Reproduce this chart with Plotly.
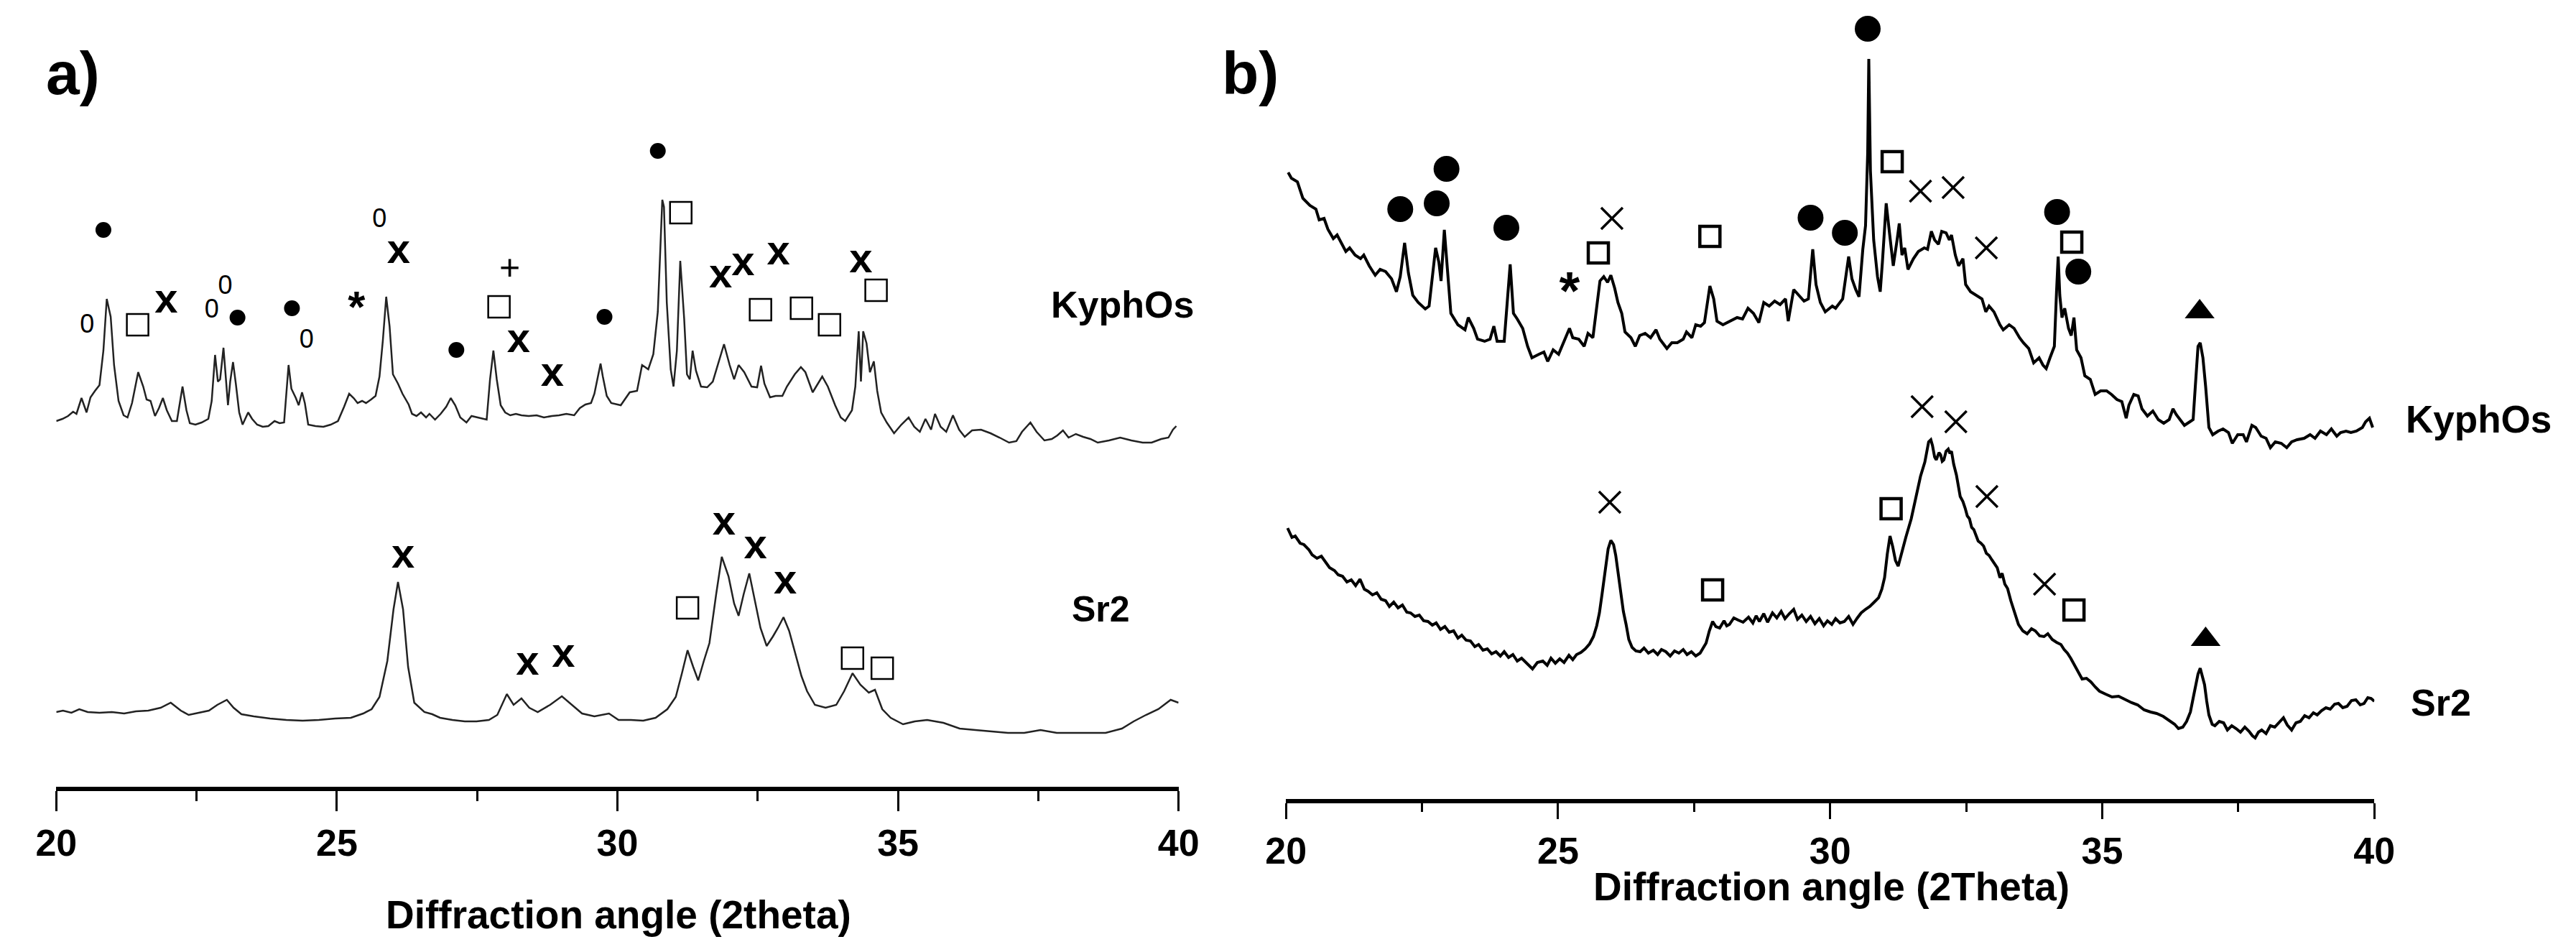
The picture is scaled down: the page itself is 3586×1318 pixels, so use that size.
import plotly.graph_objects as go

W, H = 3586, 1318
FONT = "Liberation Sans"

# ---- panel a) : 2theta and intensity (arbitrary units) ----
a_kyphos_2t = [20.00, 20.11, 20.21, 20.30, 20.36, 20.45, 20.54, 20.61, 20.69, 20.77, 20.84, 20.90, 20.97,
               21.03, 21.11, 21.20, 21.27, 21.35, 21.46, 21.55, 21.61, 21.68, 21.76, 21.83, 21.90, 21.97,
               22.06, 22.15, 22.25, 22.32, 22.38, 22.48, 22.59, 22.71, 22.77, 22.83, 22.88, 22.92, 22.98,
               23.02, 23.06, 23.10, 23.15, 23.20, 23.26, 23.32, 23.42, 23.49, 23.58, 23.68, 23.78, 23.89,
               23.98, 24.06, 24.14, 24.19, 24.27, 24.32, 24.38, 24.43, 24.49, 24.62, 24.76, 24.89, 25.02,
               25.13, 25.22, 25.30, 25.37, 25.45, 25.52, 25.61, 25.69, 25.76, 25.82, 25.88, 25.94, 26.00,
               26.09, 26.17, 26.28, 26.34, 26.42, 26.50, 26.59, 26.65, 26.75, 26.85, 26.95, 27.03, 27.11,
               27.20, 27.31, 27.40, 27.50, 27.60, 27.67, 27.73, 27.79, 27.85, 27.92, 28.00, 28.09, 28.19,
               28.29, 28.42, 28.56, 28.69, 28.83, 28.96, 29.09, 29.23, 29.33, 29.43, 29.53, 29.59, 29.66,
               29.70, 29.74, 29.81, 29.89, 30.06, 30.22, 30.35, 30.44, 30.55, 30.64, 30.72, 30.80, 30.83,
               30.88, 30.95, 31.00, 31.06, 31.12, 31.19, 31.24, 31.29, 31.34, 31.40, 31.49, 31.60, 31.70,
               31.80, 31.90, 32.00, 32.08, 32.16, 32.26, 32.39, 32.49, 32.56, 32.62, 32.72, 32.82, 32.94,
               33.02, 33.16, 33.27, 33.35, 33.48, 33.65, 33.75, 33.88, 33.98, 34.06, 34.18, 34.24, 34.30,
               34.34, 34.38, 34.44, 34.50, 34.57, 34.63, 34.70, 34.80, 34.93, 35.06, 35.19, 35.29, 35.39,
               35.49, 35.59, 35.66, 35.76, 35.86, 35.98, 36.09, 36.19, 36.32, 36.48, 36.65, 36.81, 36.98,
               37.11, 37.21, 37.36, 37.47, 37.61, 37.74, 37.84, 37.94, 38.04, 38.17, 38.30, 38.43, 38.56,
               38.76, 38.96, 39.16, 39.36, 39.52, 39.69, 39.82, 39.90, 39.96]
a_kyphos_i = [512, 515, 519, 525, 522, 544, 524, 545, 554, 562, 610, 682, 657,
              590, 540, 520, 517, 537, 580, 560, 542, 540, 519, 530, 544, 527,
              512, 512, 560, 527, 509, 507, 510, 515, 540, 604, 567, 570, 614,
              577, 534, 567, 594, 564, 524, 507, 524, 515, 507, 504, 505, 512,
              509, 510, 590, 557, 544, 534, 552, 537, 507, 505, 504, 507, 512,
              532, 550, 544, 537, 540, 537, 542, 547, 574, 624, 685, 644, 577,
              564, 550, 535, 522, 519, 524, 517, 522, 514, 522, 532, 544, 534,
              517, 510, 519, 517, 515, 514, 570, 610, 570, 534, 524, 520, 522,
              520, 519, 520, 517, 519, 520, 522, 520, 530, 535, 537, 550, 577,
              592, 574, 547, 537, 534, 552, 554, 590, 584, 605, 664, 820, 810,
              677, 584, 560, 610, 735, 654, 577, 570, 610, 582, 560, 559, 567,
              594, 619, 590, 570, 590, 580, 560, 559, 589, 564, 545, 547, 547,
              560, 577, 587, 580, 552, 574, 560, 534, 517, 512, 527, 560, 637,
              567, 637, 620, 580, 595, 554, 524, 510, 495, 507, 517, 504, 497,
              515, 500, 522, 504, 497, 520, 500, 490, 499, 500, 495, 489, 482,
              484, 497, 510, 497, 485, 487, 492, 499, 489, 494, 490, 487, 482,
              485, 489, 485, 482, 482, 487, 489, 500, 505]

a_sr2_2t = [20.00, 20.12, 20.27, 20.41, 20.56, 20.77, 20.99, 21.21, 21.42, 21.64, 21.86, 22.04, 22.22,
            22.36, 22.54, 22.72, 22.87, 23.04, 23.16, 23.30, 23.52, 23.81, 24.10, 24.39, 24.68, 24.97,
            25.25, 25.47, 25.62, 25.76, 25.90, 26.01, 26.09, 26.18, 26.27, 26.38, 26.56, 26.70, 26.84,
            27.06, 27.28, 27.49, 27.71, 27.86, 28.03, 28.15, 28.29, 28.43, 28.58, 28.80, 29.01, 29.19,
            29.37, 29.59, 29.85, 30.02, 30.24, 30.46, 30.68, 30.89, 31.04, 31.15, 31.25, 31.35, 31.44,
            31.54, 31.64, 31.76, 31.86, 31.98, 32.08, 32.16, 32.25, 32.35, 32.45, 32.55, 32.66, 32.77,
            32.86, 32.96, 33.06, 33.18, 33.28, 33.38, 33.52, 33.71, 33.90, 34.04, 34.19, 34.33, 34.48,
            34.59, 34.72, 34.87, 35.09, 35.30, 35.52, 35.81, 36.10, 36.38, 36.67, 36.96, 37.25, 37.54,
            37.83, 38.12, 38.41, 38.70, 38.99, 39.20, 39.42, 39.64, 39.86, 40.00]
a_sr2_i = [107, 109, 106, 111, 107, 106, 107, 105, 108, 109, 113, 120, 109,
           103, 106, 109, 117, 124, 113, 104, 101, 98, 96, 95, 96, 98,
           99, 105, 111, 128, 178, 250, 288, 250, 170, 120, 107, 104, 99,
           96, 94, 94, 96, 103, 132, 117, 126, 113, 107, 117, 129, 117,
           105, 101, 105, 96, 96, 95, 99, 111, 128, 161, 193, 170, 151,
           178, 203, 271, 323, 296, 258, 241, 271, 300, 262, 224, 199, 212,
           224, 239, 220, 187, 157, 136, 117, 113, 117, 136, 161, 145, 134,
           138, 111, 99, 90, 94, 96, 92, 84, 82, 80, 78, 78, 82,
           78, 78, 78, 78, 84, 94, 103, 111, 124, 120]

# phase labels in panel a (2theta, height)
a_dot_2t = [20.84, 23.23, 24.20, 27.13, 29.77, 30.72]
a_dot_i = [778, 656, 669, 611, 657, 888]
a_oval_2t = [20.55, 22.77, 23.01, 24.46, 25.76]
a_oval_i = [644, 665, 698, 623, 791]
a_box_2t = [21.45, 27.89, 31.13, 32.55, 33.28, 33.78, 34.61, 31.25, 34.19, 34.72]
a_box_i = [646, 671, 802, 667, 669, 646, 694, 252, 182, 168]
a_x_2t = [21.96, 26.10, 28.24, 28.84, 31.84, 32.24, 32.87, 34.34, 26.18, 28.40, 29.04, 31.90, 32.46, 32.99]
a_x_i = [678, 747, 623, 576, 713, 730, 745, 734, 323, 174, 185, 369, 336, 287]
a_star_2t, a_star_i = [25.35], [666]
a_plus_2t, a_plus_i = [28.08], [722]

# ---- panel b) ----
b_kyphos_2t = [20.04, 20.10, 20.21, 20.31, 20.44, 20.55, 20.61, 20.70, 20.77, 20.87, 20.94, 21.04, 21.10,
               21.17, 21.27, 21.37, 21.43, 21.53, 21.64, 21.73, 21.83, 21.94, 22.03, 22.10, 22.18, 22.25,
               22.33, 22.43, 22.56, 22.63, 22.69, 22.75, 22.81, 22.85, 22.91, 22.96, 23.03, 23.16, 23.29,
               23.35, 23.45, 23.52, 23.65, 23.75, 23.82, 23.88, 24.01, 24.12, 24.18, 24.25, 24.35, 24.44,
               24.52, 24.65, 24.74, 24.81, 24.91, 25.01, 25.10, 25.21, 25.27, 25.38, 25.48, 25.55, 25.64,
               25.70, 25.77, 25.84, 25.91, 25.97, 26.04, 26.10, 26.17, 26.23, 26.34, 26.42, 26.50, 26.60,
               26.70, 26.80, 26.87, 27.00, 27.09, 27.19, 27.30, 27.36, 27.46, 27.53, 27.62, 27.69, 27.79,
               27.86, 27.92, 28.03, 28.16, 28.29, 28.39, 28.49, 28.59, 28.69, 28.78, 28.88, 28.98, 29.08,
               29.18, 29.23, 29.33, 29.42, 29.52, 29.60, 29.68, 29.74, 29.82, 29.91, 30.04, 30.10, 30.23,
               30.34, 30.40, 30.47, 30.53, 30.60, 30.65, 30.69, 30.71, 30.74, 30.80, 30.87, 30.92, 30.96,
               31.03, 31.09, 31.16, 31.23, 31.27, 31.32, 31.37, 31.43, 31.53, 31.62, 31.73, 31.79, 31.86,
               31.92, 31.99, 32.05, 32.13, 32.19, 32.23, 32.30, 32.36, 32.44, 32.49, 32.58, 32.69, 32.79,
               32.86, 32.92, 33.01, 33.12, 33.18, 33.29, 33.38, 33.48, 33.55, 33.65, 33.74, 33.84, 33.91,
               33.97, 34.04, 34.12, 34.16, 34.19, 34.22, 34.26, 34.31, 34.38, 34.43, 34.48, 34.53, 34.61,
               34.68, 34.78, 34.87, 34.97, 35.08, 35.17, 35.27, 35.36, 35.44, 35.49, 35.58, 35.66, 35.73,
               35.83, 35.93, 36.03, 36.13, 36.23, 36.30, 36.36, 36.43, 36.51, 36.61, 36.67, 36.71, 36.76,
               36.80, 36.85, 36.90, 36.96, 37.03, 37.13, 37.22, 37.32, 37.39, 37.49, 37.59, 37.65, 37.75,
               37.82, 37.92, 38.01, 38.09, 38.18, 38.29, 38.39, 38.48, 38.58, 38.71, 38.82, 38.91, 39.01,
               39.12, 39.21, 39.31, 39.38, 39.48, 39.57, 39.67, 39.78, 39.84, 39.91, 39.97]
b_kyphos_i = [876, 868, 863, 840, 830, 825, 810, 812, 797, 784, 789, 774, 766,
              771, 761, 756, 761, 746, 733, 741, 738, 728, 710, 731, 778, 736,
              705, 695, 686, 690, 731, 771, 751, 725, 796, 751, 680, 664, 657,
              674, 659, 644, 641, 644, 662, 641, 641, 748, 680, 672, 659, 634,
              618, 623, 626, 613, 629, 623, 639, 659, 646, 644, 634, 652, 646,
              680, 725, 731, 723, 733, 715, 695, 680, 654, 646, 634, 649, 652,
              646, 657, 644, 631, 639, 639, 644, 654, 646, 664, 662, 667, 718,
              700, 669, 664, 669, 674, 672, 687, 680, 667, 695, 690, 697, 692,
              700, 669, 713, 705, 697, 700, 769, 720, 695, 682, 690, 687, 700,
              759, 728, 713, 703, 769, 802, 904, 1034, 878, 782, 731, 710, 751,
              833, 792, 746, 782, 805, 761, 771, 741, 756, 766, 771, 769, 794,
              782, 776, 794, 792, 782, 789, 761, 746, 756, 720, 710, 705, 700,
              682, 690, 682, 664, 657, 664, 659, 646, 639, 631, 611, 618, 608,
              603, 618, 634, 710, 759, 705, 674, 687, 659, 649, 674, 629, 618,
              593, 588, 567, 572, 572, 567, 560, 557, 534, 552, 567, 565, 547,
              537, 544, 532, 527, 532, 547, 539, 532, 524, 529, 532, 578, 634,
              639, 618, 578, 521, 511, 516, 519, 514, 499, 511, 511, 501, 524,
              521, 509, 506, 493, 501, 499, 493, 501, 504, 506, 511, 506, 516,
              511, 519, 509, 514, 516, 514, 516, 521, 529, 534, 521]

b_sr2_2t = [20.03, 20.08, 20.11, 20.17, 20.26, 20.33, 20.42, 20.48, 20.57, 20.65, 20.73, 20.80, 20.89,
            20.96, 21.04, 21.12, 21.20, 21.28, 21.36, 21.44, 21.51, 21.59, 21.67, 21.75, 21.83, 21.90,
            21.98, 22.06, 22.14, 22.22, 22.29, 22.37, 22.45, 22.53, 22.61, 22.69, 22.76, 22.84, 22.92,
            23.00, 23.08, 23.16, 23.23, 23.31, 23.39, 23.47, 23.54, 23.62, 23.70, 23.78, 23.86, 23.94,
            24.01, 24.09, 24.17, 24.25, 24.33, 24.43, 24.53, 24.62, 24.72, 24.80, 24.87, 24.95, 25.03,
            25.11, 25.20, 25.27, 25.34, 25.42, 25.50, 25.58, 25.65, 25.71, 25.76, 25.81, 25.86, 25.92,
            25.97, 26.02, 26.06, 26.11, 26.15, 26.20, 26.25, 26.30, 26.36, 26.43, 26.51, 26.58, 26.66,
            26.75, 26.83, 26.90, 26.98, 27.06, 27.14, 27.22, 27.30, 27.37, 27.45, 27.53, 27.61, 27.67,
            27.72, 27.78, 27.84, 27.90, 27.97, 28.05, 28.10, 28.15, 28.23, 28.31, 28.40, 28.50, 28.58,
            28.64, 28.70, 28.78, 28.85, 28.94, 29.02, 29.10, 29.17, 29.25, 29.33, 29.40, 29.48, 29.56,
            29.64, 29.72, 29.80, 29.88, 29.95, 30.03, 30.10, 30.18, 30.26, 30.34, 30.42, 30.50, 30.57,
            30.65, 30.73, 30.81, 30.89, 30.95, 31.00, 31.05, 31.10, 31.15, 31.20, 31.25, 31.30, 31.39,
            31.49, 31.56, 31.66, 31.74, 31.81, 31.85, 31.88, 31.92, 31.95, 32.00, 32.03, 32.06, 32.09,
            32.13, 32.17, 32.20, 32.23, 32.27, 32.32, 32.39, 32.44, 32.48, 32.52, 32.56, 32.60, 32.64,
            32.68, 32.72, 32.77, 32.82, 32.87, 32.92, 32.97, 33.01, 33.07, 33.12, 33.16, 33.21, 33.26,
            33.32, 33.37, 33.42, 33.46, 33.54, 33.62, 33.70, 33.77, 33.85, 33.93, 34.00, 34.08, 34.16,
            34.24, 34.30, 34.36, 34.42, 34.48, 34.55, 34.63, 34.71, 34.79, 34.87, 34.95, 35.06, 35.18,
            35.30, 35.42, 35.54, 35.65, 35.77, 35.89, 36.00, 36.12, 36.22, 36.33, 36.40, 36.48, 36.55,
            36.62, 36.68, 36.72, 36.76, 36.80, 36.84, 36.88, 36.92, 36.96, 37.02, 37.07, 37.15, 37.23,
            37.30, 37.38, 37.46, 37.54, 37.62, 37.70, 37.76, 37.81, 37.87, 37.93, 38.01, 38.09, 38.17,
            38.25, 38.33, 38.40, 38.48, 38.56, 38.64, 38.72, 38.80, 38.88, 38.95, 39.03, 39.11, 39.19,
            39.27, 39.34, 39.42, 39.50, 39.58, 39.66, 39.74, 39.81, 39.88, 39.94, 40.00]
b_sr2_i = [381, 372, 368, 370, 360, 358, 351, 344, 339, 342, 333, 326, 322,
           316, 314, 306, 309, 301, 310, 296, 293, 288, 291, 282, 280, 272,
           278, 270, 274, 264, 263, 258, 260, 252, 251, 246, 249, 240, 244,
           236, 238, 228, 232, 225, 224, 216, 219, 211, 213, 206, 209, 203,
           209, 201, 205, 196, 200, 192, 185, 194, 196, 190, 200, 193, 199,
           194, 204, 198, 205, 208, 213, 220, 230, 245, 263, 290, 322, 352,
           364, 358, 343, 315, 289, 265, 247, 226, 215, 210, 209, 214, 207,
           211, 205, 212, 209, 203, 210, 207, 212, 205, 209, 203, 207, 214,
           221, 238, 251, 244, 242, 252, 245, 247, 256, 253, 250, 257, 249,
           259, 251, 262, 250, 263, 256, 265, 255, 262, 268, 254, 260, 251,
           258, 248, 255, 245, 252, 247, 255, 249, 251, 258, 247, 256, 263,
           268, 272, 278, 284, 296, 312, 345, 370, 355, 336, 328, 343, 368,
           394, 419, 453, 473, 501, 504, 496, 480, 476, 486, 483, 474, 476,
           488, 491, 485, 488, 470, 455, 425, 418, 409, 398, 394, 382, 379,
           370, 363, 360, 356, 346, 343, 337, 333, 326, 312, 318, 303, 297,
           280, 268, 258, 247, 238, 234, 241, 238, 231, 230, 234, 226, 222,
           219, 212, 207, 200, 192, 182, 171, 172, 167, 160, 154, 150, 146,
           147, 142, 138, 135, 128, 125, 123, 119, 114, 108, 102, 104, 112,
           125, 148, 163, 178, 186, 176, 163, 140, 121, 108, 106, 112, 110,
           100, 106, 102, 97, 104, 98, 92, 89, 97, 100, 95, 106, 104,
           110, 117, 107, 100, 110, 112, 120, 117, 124, 121, 127, 131, 129,
           136, 137, 131, 133, 141, 142, 135, 137, 145, 144, 140]

# phase labels in panel b
b_dot_2t = [22.10, 22.77, 22.95, 24.05, 29.64, 30.27, 30.69, 34.17, 34.56]
b_dot_i = [825, 833, 881, 799, 813, 792, 1076, 821, 738]
b_box_2t = [25.74, 27.79, 31.14, 34.44, 27.84, 31.12, 34.48]
b_box_i = [764, 787, 891, 779, 295, 408, 267]
b_x_2t = [25.99, 31.66, 32.26, 32.87, 25.95, 31.69, 32.31, 32.88, 33.94]
b_x_i = [812, 850, 855, 771, 417, 550, 529, 425, 303]
b_star_2t, b_star_i = [25.21], [705]
b_tri_2t = [36.79, 36.90]
b_tri_i = [682, 226]


def px(x):
    return x / W


def py(y):
    return 1 - y / H


fig = go.Figure()

# traces
fig.add_trace(go.Scatter(x=a_kyphos_2t, y=a_kyphos_i, mode="lines",
                         line=dict(color="#222", width=2.5), xaxis="x", yaxis="y"))
fig.add_trace(go.Scatter(x=a_sr2_2t, y=a_sr2_i, mode="lines",
                         line=dict(color="#222", width=2.5), xaxis="x", yaxis="y"))
fig.add_trace(go.Scatter(x=b_kyphos_2t, y=b_kyphos_i, mode="lines",
                         line=dict(color="black", width=4), xaxis="x2", yaxis="y2"))
fig.add_trace(go.Scatter(x=b_sr2_2t, y=b_sr2_i, mode="lines",
                         line=dict(color="black", width=4), xaxis="x2", yaxis="y2"))


def text_marks(xs, ys, txt, size, ax, ay, bold=True):
    fig.add_trace(go.Scatter(
        x=xs, y=ys, mode="text", text=[txt] * len(xs), textposition="middle center",
        textfont=dict(family=FONT, size=size, color="black", weight="bold" if bold else "normal"),
        xaxis=ax, yaxis=ay, cliponaxis=False))


def sym_marks(xs, ys, symbol, size, ax, ay, lw=0):
    fig.add_trace(go.Scatter(
        x=xs, y=ys, mode="markers",
        marker=dict(symbol=symbol, size=size, color="black", line=dict(color="black", width=lw)),
        xaxis=ax, yaxis=ay, cliponaxis=False))


# panel a symbols
sym_marks(a_dot_2t, a_dot_i, "circle", 22, "x", "y")
text_marks(a_oval_2t, a_oval_i, "0", 36, "x", "y", bold=False)
sym_marks(a_box_2t, a_box_i, "square-open", 30, "x", "y", lw=2.5)
text_marks(a_x_2t, a_x_i, "x", 58, "x", "y")
text_marks(a_star_2t, a_star_i, "*", 62, "x", "y")
text_marks(a_plus_2t, a_plus_i, "+", 50, "x", "y", bold=False)

# panel b symbols
sym_marks(b_dot_2t, b_dot_i, "circle", 36, "x2", "y2")
sym_marks(b_box_2t, b_box_i, "square-open", 28, "x2", "y2", lw=4.5)
sym_marks(b_x_2t, b_x_i, "x-thin-open", 30, "x2", "y2", lw=3.5)
text_marks(b_star_2t, b_star_i, "*", 74, "x2", "y2")
sym_marks(b_tri_2t, b_tri_i, "triangle-up", 36, "x2", "y2")

tickfont = dict(family=FONT, size=52, color="black", weight="bold")
common_x = dict(range=[20, 40], tickvals=[20, 25, 30, 35, 40], ticks="outside", tickwidth=3,
                tickcolor="black", showline=True, linecolor="black", linewidth=6,
                showgrid=False, zeroline=False, tickfont=tickfont, fixedrange=True)

fig.update_layout(
    width=W, height=H, autosize=False,
    margin=dict(l=0, r=0, t=0, b=0),
    paper_bgcolor="white", plot_bgcolor="white", showlegend=False,
    xaxis=dict(domain=[px(42), px(1630)], anchor="y", ticklen=28,
               minor=dict(tickvals=[22.5, 27.5, 32.5, 37.5], ticks="outside", ticklen=14,
                          tickwidth=3, tickcolor="black"), **common_x),
    yaxis=dict(domain=[py(1087), 1], range=[3, 1090], visible=False, fixedrange=True),
    xaxis2=dict(domain=[px(1782), px(3322)], anchor="y2", ticklen=22,
                minor=dict(tickvals=[22.5, 27.5, 32.5, 37.5], ticks="outside", ticklen=12,
                           tickwidth=3, tickcolor="black"), **common_x),
    yaxis2=dict(domain=[py(1104), 1], range=[4, 1108], visible=False, fixedrange=True),
)


def label(txt, x, y, size):
    fig.add_annotation(text=txt, x=px(x), y=py(y), xref="paper", yref="paper",
                       showarrow=False, xanchor="center", yanchor="middle",
                       font=dict(family=FONT, size=size, color="black", weight="bold"))


label("a)", 66, 94, 84)
label("b)", 1732, 94, 84)
label("KyphOs", 1551, 416, 52)
label("Sr2", 1520, 840, 50)
label("KyphOs", 3470, 575, 53)
label("Sr2", 3416, 970, 52)
label("Diffraction angle (2theta)", 838, 1265, 55)
label("Diffraction angle (2Theta)", 2554, 1226, 55)

fig.write_html("out.html")
